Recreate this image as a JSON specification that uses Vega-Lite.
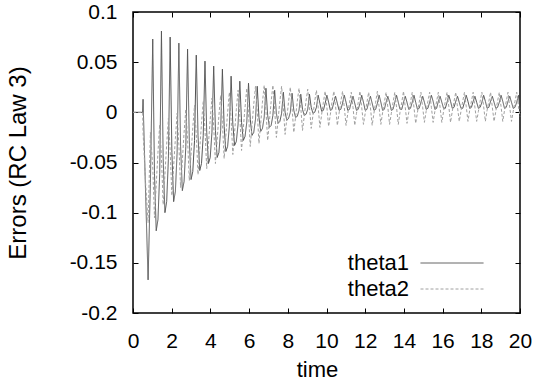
{
  "$schema": "https://vega.github.io/schema/vega-lite/v6.json",
  "autosize": "none",
  "width": 387,
  "height": 301,
  "padding": {"left": 133, "top": 12, "right": 17, "bottom": 75},
  "background": "white",
  "data": {"values": [
    {"t":0,"theta1":0,"theta2":0},
    {"t":0.5,"theta1":0,"theta2":0},
    {"t":0.52,"theta1":0.013,"theta2":-0.02},
    {"t":0.65,"theta1":-0.08,"theta2":-0.07},
    {"t":0.78,"theta1":-0.167,"theta2":-0.11},
    {"t":0.9,"theta1":-0.07,"theta2":-0.02},
    {"t":1.02,"theta1":0.073,"theta2":-0.054},
    {"t":1.11,"theta1":-0.061,"theta2":-0.105},
    {"t":1.2,"theta1":-0.118,"theta2":-0.072},
    {"t":1.29,"theta1":-0.107,"theta2":-0.04},
    {"t":1.38,"theta1":-0.061,"theta2":-0.012},
    {"t":1.47,"theta1":0.081,"theta2":-0.045},
    {"t":1.56,"theta1":-0.046,"theta2":-0.092},
    {"t":1.65,"theta1":-0.1,"theta2":-0.062},
    {"t":1.74,"theta1":-0.089,"theta2":-0.032},
    {"t":1.83,"theta1":-0.046,"theta2":-0.006},
    {"t":1.92,"theta1":0.075,"theta2":-0.038},
    {"t":2.01,"theta1":-0.04,"theta2":-0.083},
    {"t":2.1,"theta1":-0.089,"theta2":-0.054},
    {"t":2.19,"theta1":-0.079,"theta2":-0.026},
    {"t":2.28,"theta1":-0.04,"theta2":-0.001},
    {"t":2.37,"theta1":0.069,"theta2":-0.032},
    {"t":2.46,"theta1":-0.034,"theta2":-0.075},
    {"t":2.55,"theta1":-0.078,"theta2":-0.048},
    {"t":2.64,"theta1":-0.069,"theta2":-0.02},
    {"t":2.73,"theta1":-0.034,"theta2":0.003},
    {"t":2.82,"theta1":0.063,"theta2":-0.027},
    {"t":2.91,"theta1":-0.028,"theta2":-0.068},
    {"t":3.0,"theta1":-0.067,"theta2":-0.042},
    {"t":3.09,"theta1":-0.059,"theta2":-0.015},
    {"t":3.18,"theta1":-0.028,"theta2":0.007},
    {"t":3.27,"theta1":0.057,"theta2":-0.022},
    {"t":3.36,"theta1":-0.023,"theta2":-0.062},
    {"t":3.45,"theta1":-0.058,"theta2":-0.036},
    {"t":3.54,"theta1":-0.051,"theta2":-0.011},
    {"t":3.63,"theta1":-0.023,"theta2":0.011},
    {"t":3.72,"theta1":0.051,"theta2":-0.017},
    {"t":3.81,"theta1":-0.02,"theta2":-0.056},
    {"t":3.9,"theta1":-0.051,"theta2":-0.031},
    {"t":3.99,"theta1":-0.045,"theta2":-0.007},
    {"t":4.08,"theta1":-0.02,"theta2":0.014},
    {"t":4.17,"theta1":0.046,"theta2":-0.014},
    {"t":4.26,"theta1":-0.018,"theta2":-0.051},
    {"t":4.35,"theta1":-0.045,"theta2":-0.027},
    {"t":4.44,"theta1":-0.04,"theta2":-0.003},
    {"t":4.53,"theta1":-0.018,"theta2":0.017},
    {"t":4.62,"theta1":0.043,"theta2":-0.01},
    {"t":4.71,"theta1":-0.014,"theta2":-0.046},
    {"t":4.8,"theta1":-0.039,"theta2":-0.023},
    {"t":4.89,"theta1":-0.034,"theta2":0},
    {"t":4.98,"theta1":-0.014,"theta2":0.02},
    {"t":5.07,"theta1":0.036,"theta2":-0.007},
    {"t":5.16,"theta1":-0.012,"theta2":-0.042},
    {"t":5.25,"theta1":-0.033,"theta2":-0.02},
    {"t":5.34,"theta1":-0.029,"theta2":0.003},
    {"t":5.43,"theta1":-0.012,"theta2":0.022},
    {"t":5.52,"theta1":0.031,"theta2":-0.004},
    {"t":5.61,"theta1":-0.01,"theta2":-0.038},
    {"t":5.7,"theta1":-0.028,"theta2":-0.016},
    {"t":5.79,"theta1":-0.024,"theta2":0.005},
    {"t":5.88,"theta1":-0.01,"theta2":0.024},
    {"t":5.97,"theta1":0.029,"theta2":-0.001},
    {"t":6.06,"theta1":-0.007,"theta2":-0.034},
    {"t":6.15,"theta1":-0.023,"theta2":-0.013},
    {"t":6.24,"theta1":-0.02,"theta2":0.008},
    {"t":6.33,"theta1":-0.007,"theta2":0.026},
    {"t":6.42,"theta1":0.026,"theta2":0.001},
    {"t":6.51,"theta1":-0.005,"theta2":-0.031},
    {"t":6.6,"theta1":-0.019,"theta2":-0.011},
    {"t":6.69,"theta1":-0.016,"theta2":0.01},
    {"t":6.78,"theta1":-0.005,"theta2":0.027},
    {"t":6.87,"theta1":0.024,"theta2":0.002},
    {"t":6.96,"theta1":-0.003,"theta2":-0.028},
    {"t":7.05,"theta1":-0.015,"theta2":-0.009},
    {"t":7.14,"theta1":-0.013,"theta2":0.011},
    {"t":7.23,"theta1":-0.003,"theta2":0.027},
    {"t":7.32,"theta1":0.022,"theta2":0.003},
    {"t":7.41,"theta1":-0.001,"theta2":-0.025},
    {"t":7.5,"theta1":-0.011,"theta2":-0.007},
    {"t":7.59,"theta1":-0.009,"theta2":0.011},
    {"t":7.68,"theta1":-0.001,"theta2":0.026},
    {"t":7.77,"theta1":0.02,"theta2":0.004},
    {"t":7.86,"theta1":0,"theta2":-0.022},
    {"t":7.95,"theta1":-0.008,"theta2":-0.006},
    {"t":8.04,"theta1":-0.006,"theta2":0.011},
    {"t":8.13,"theta1":0,"theta2":0.025},
    {"t":8.22,"theta1":0.019,"theta2":0.004},
    {"t":8.31,"theta1":0.002,"theta2":-0.02},
    {"t":8.4,"theta1":-0.005,"theta2":-0.005},
    {"t":8.49,"theta1":-0.004,"theta2":0.011},
    {"t":8.58,"theta1":0.002,"theta2":0.024},
    {"t":8.67,"theta1":0.018,"theta2":0.005},
    {"t":8.76,"theta1":0.003,"theta2":-0.018},
    {"t":8.85,"theta1":-0.003,"theta2":-0.004},
    {"t":8.94,"theta1":-0.002,"theta2":0.011},
    {"t":9.03,"theta1":0.003,"theta2":0.023},
    {"t":9.12,"theta1":0.018,"theta2":0.005},
    {"t":9.21,"theta1":0.005,"theta2":-0.016},
    {"t":9.3,"theta1":-0.001,"theta2":-0.003},
    {"t":9.39,"theta1":0,"theta2":0.011},
    {"t":9.48,"theta1":0.005,"theta2":0.022},
    {"t":9.57,"theta1":0.017,"theta2":0.005},
    {"t":9.66,"theta1":0.009,"theta2":-0.015},
    {"t":9.75,"theta1":0.001,"theta2":-0.002},
    {"t":9.84,"theta1":0.002,"theta2":0.01},
    {"t":9.93,"theta1":0.009,"theta2":0.021},
    {"t":10.02,"theta1":0.017,"theta2":0.005},
    {"t":10.11,"theta1":0.01,"theta2":-0.014},
    {"t":10.2,"theta1":0.002,"theta2":-0.002},
    {"t":10.29,"theta1":0.003,"theta2":0.011},
    {"t":10.38,"theta1":0.01,"theta2":0.021},
    {"t":10.47,"theta1":0.016,"theta2":0.006},
    {"t":10.56,"theta1":0.009,"theta2":-0.013},
    {"t":10.65,"theta1":0.002,"theta2":-0.001},
    {"t":10.74,"theta1":0.003,"theta2":0.011},
    {"t":10.83,"theta1":0.009,"theta2":0.021},
    {"t":10.92,"theta1":0.017,"theta2":0.005},
    {"t":11.01,"theta1":0.01,"theta2":-0.013},
    {"t":11.1,"theta1":0.002,"theta2":-0.001},
    {"t":11.19,"theta1":0.003,"theta2":0.01},
    {"t":11.28,"theta1":0.01,"theta2":0.02},
    {"t":11.37,"theta1":0.016,"theta2":0.005},
    {"t":11.46,"theta1":0.009,"theta2":-0.013},
    {"t":11.55,"theta1":0.002,"theta2":-0.001},
    {"t":11.64,"theta1":0.003,"theta2":0.01},
    {"t":11.73,"theta1":0.009,"theta2":0.021},
    {"t":11.82,"theta1":0.017,"theta2":0.005},
    {"t":11.91,"theta1":0.01,"theta2":-0.012},
    {"t":12.0,"theta1":0.002,"theta2":-0.001},
    {"t":12.09,"theta1":0.003,"theta2":0.01},
    {"t":12.18,"theta1":0.01,"theta2":0.02},
    {"t":12.27,"theta1":0.016,"theta2":0.005},
    {"t":12.36,"theta1":0.009,"theta2":-0.013},
    {"t":12.45,"theta1":0.002,"theta2":-0.001},
    {"t":12.54,"theta1":0.003,"theta2":0.01},
    {"t":12.63,"theta1":0.009,"theta2":0.021},
    {"t":12.72,"theta1":0.017,"theta2":0.005},
    {"t":12.81,"theta1":0.01,"theta2":-0.012},
    {"t":12.9,"theta1":0.002,"theta2":0},
    {"t":12.99,"theta1":0.003,"theta2":0.01},
    {"t":13.08,"theta1":0.01,"theta2":0.02},
    {"t":13.17,"theta1":0.016,"theta2":0.005},
    {"t":13.26,"theta1":0.01,"theta2":-0.012},
    {"t":13.35,"theta1":0.002,"theta2":-0.001},
    {"t":13.44,"theta1":0.003,"theta2":0.01},
    {"t":13.53,"theta1":0.01,"theta2":0.02},
    {"t":13.62,"theta1":0.017,"theta2":0.005},
    {"t":13.71,"theta1":0.01,"theta2":-0.012},
    {"t":13.8,"theta1":0.003,"theta2":0},
    {"t":13.89,"theta1":0.003,"theta2":0.01},
    {"t":13.98,"theta1":0.01,"theta2":0.021},
    {"t":14.07,"theta1":0.016,"theta2":0.005},
    {"t":14.16,"theta1":0.01,"theta2":-0.011},
    {"t":14.25,"theta1":0.003,"theta2":0},
    {"t":14.34,"theta1":0.004,"theta2":0.01},
    {"t":14.43,"theta1":0.01,"theta2":0.02},
    {"t":14.52,"theta1":0.017,"theta2":0.005},
    {"t":14.61,"theta1":0.01,"theta2":-0.011},
    {"t":14.7,"theta1":0.003,"theta2":0},
    {"t":14.79,"theta1":0.004,"theta2":0.01},
    {"t":14.88,"theta1":0.01,"theta2":0.02},
    {"t":14.97,"theta1":0.016,"theta2":0.005},
    {"t":15.06,"theta1":0.01,"theta2":-0.01},
    {"t":15.15,"theta1":0.003,"theta2":0.001},
    {"t":15.24,"theta1":0.004,"theta2":0.011},
    {"t":15.33,"theta1":0.01,"theta2":0.02},
    {"t":15.42,"theta1":0.017,"theta2":0.005},
    {"t":15.51,"theta1":0.011,"theta2":-0.01},
    {"t":15.6,"theta1":0.003,"theta2":0.001},
    {"t":15.69,"theta1":0.004,"theta2":0.011},
    {"t":15.78,"theta1":0.011,"theta2":0.02},
    {"t":15.87,"theta1":0.016,"theta2":0.005},
    {"t":15.96,"theta1":0.01,"theta2":-0.01},
    {"t":16.05,"theta1":0.004,"theta2":0.001},
    {"t":16.14,"theta1":0.004,"theta2":0.011},
    {"t":16.23,"theta1":0.01,"theta2":0.02},
    {"t":16.32,"theta1":0.017,"theta2":0.006},
    {"t":16.41,"theta1":0.011,"theta2":-0.01},
    {"t":16.5,"theta1":0.004,"theta2":0.001},
    {"t":16.59,"theta1":0.005,"theta2":0.011},
    {"t":16.68,"theta1":0.011,"theta2":0.02},
    {"t":16.77,"theta1":0.016,"theta2":0.005},
    {"t":16.86,"theta1":0.01,"theta2":-0.009},
    {"t":16.95,"theta1":0.004,"theta2":0.001},
    {"t":17.04,"theta1":0.004,"theta2":0.011},
    {"t":17.13,"theta1":0.01,"theta2":0.02},
    {"t":17.22,"theta1":0.017,"theta2":0.006},
    {"t":17.31,"theta1":0.011,"theta2":-0.009},
    {"t":17.4,"theta1":0.004,"theta2":0.002},
    {"t":17.49,"theta1":0.005,"theta2":0.011},
    {"t":17.58,"theta1":0.011,"theta2":0.02},
    {"t":17.67,"theta1":0.016,"theta2":0.005},
    {"t":17.76,"theta1":0.01,"theta2":-0.009},
    {"t":17.85,"theta1":0.004,"theta2":0.001},
    {"t":17.94,"theta1":0.005,"theta2":0.011},
    {"t":18.03,"theta1":0.01,"theta2":0.02},
    {"t":18.12,"theta1":0.017,"theta2":0.006},
    {"t":18.21,"theta1":0.011,"theta2":-0.009},
    {"t":18.3,"theta1":0.004,"theta2":0.002},
    {"t":18.39,"theta1":0.005,"theta2":0.011},
    {"t":18.48,"theta1":0.011,"theta2":0.02},
    {"t":18.57,"theta1":0.016,"theta2":0.005},
    {"t":18.66,"theta1":0.01,"theta2":-0.009},
    {"t":18.75,"theta1":0.004,"theta2":0.001},
    {"t":18.84,"theta1":0.005,"theta2":0.011},
    {"t":18.93,"theta1":0.01,"theta2":0.02},
    {"t":19.02,"theta1":0.017,"theta2":0.006},
    {"t":19.11,"theta1":0.011,"theta2":-0.009},
    {"t":19.2,"theta1":0.004,"theta2":0.002},
    {"t":19.29,"theta1":0.005,"theta2":0.011},
    {"t":19.38,"theta1":0.011,"theta2":0.02},
    {"t":19.47,"theta1":0.016,"theta2":0.005},
    {"t":19.56,"theta1":0.01,"theta2":-0.009},
    {"t":19.65,"theta1":0.004,"theta2":0.001},
    {"t":19.74,"theta1":0.005,"theta2":0.011},
    {"t":19.83,"theta1":0.01,"theta2":0.02},
    {"t":19.92,"theta1":0.017,"theta2":0.006},
    {"t":20.0,"theta1":0.003,"theta2":-0.004}
  ]},
  "transform": [{"fold": ["theta1", "theta2"], "as": ["series", "value"]}],
  "layer": [
    {
      "mark": {"type": "line", "strokeWidth": 1, "interpolate": "linear"},
      "encoding": {
        "x": {"field": "t", "type": "quantitative",
              "scale": {"domain": [0, 20], "nice": false},
              "axis": {"title": "time", "values": [0,2,4,6,8,10,12,14,16,18,20], "labelExpr": "'' + datum.value", "labelPadding": 22, "titlePadding": 8, "titleX": 184, "labelFlush": false}},
        "y": {"field": "value", "type": "quantitative",
              "scale": {"domain": [-0.2, 0.1], "nice": false, "zero": false},
              "axis": {"title": "Errors (RC Law 3)", "values": [-0.2,-0.15,-0.1,-0.05,0,0.05,0.1], "labelExpr": "'' + datum.value", "labelPadding": 21, "titlePadding": 39, "titleFontSize": 24, "labelFlush": false}},
        "color": {"field": "series", "type": "nominal",
                  "scale": {"domain": ["theta1", "theta2"], "range": ["#505050", "#a0a0a0"]},
                  "legend": {"title": null, "orient": "none", "legendX": 308, "legendY": 240, "padding": 0,
                             "symbolType": "M-6.3,0H6.3", "symbolSize": 100, "symbolStrokeWidth": 1,
                             "symbolOffset": 0, "labelOffset": -54, "labelAlign": "right",
                             "labelFont": "Liberation Sans", "labelFontSize": 22, "labelColor": "#000000",
                             "rowPadding": 4, "labelLimit": 0}},
        "strokeDash": {"field": "series", "type": "nominal",
                  "scale": {"domain": ["theta1", "theta2"], "range": [[1, 0], [3, 2]]},
                  "legend": {"title": null, "orient": "none", "legendX": 308, "legendY": 240, "padding": 0,
                             "symbolType": "M-6.3,0H6.3", "symbolSize": 100, "symbolStrokeWidth": 1,
                             "symbolOffset": 0, "labelOffset": -54, "labelAlign": "right",
                             "labelFont": "Liberation Sans", "labelFontSize": 22, "labelColor": "#000000",
                             "rowPadding": 4, "labelLimit": 0}}
      }
    },
    {
      "mark": {"type": "point", "opacity": 0},
      "encoding": {
        "x": {"field": "t", "type": "quantitative",
              "axis": {"orient": "top", "title": null, "labels": false, "values": [0,2,4,6,8,10,12,14,16,18,20]}},
        "y": {"field": "value", "type": "quantitative",
              "axis": {"orient": "right", "title": null, "labels": false, "values": [-0.2,-0.15,-0.1,-0.05,0,0.05,0.1]}}
      }
    }
  ],
  "resolve": {"axis": {"x": "independent", "y": "independent"}},
  "config": {
    "font": "Liberation Sans",
    "view": {"stroke": "#000000", "strokeWidth": 1.5},
    "axis": {"domain": false, "grid": false, "tickColor": "#000000", "tickSize": -5, "tickWidth": 1,
             "labelFont": "Liberation Sans", "labelFontSize": 21, "labelColor": "#000000",
             "titleFont": "Liberation Sans", "titleFontSize": 22, "titleFontWeight": "normal", "titleColor": "#000000"}
  }
}
